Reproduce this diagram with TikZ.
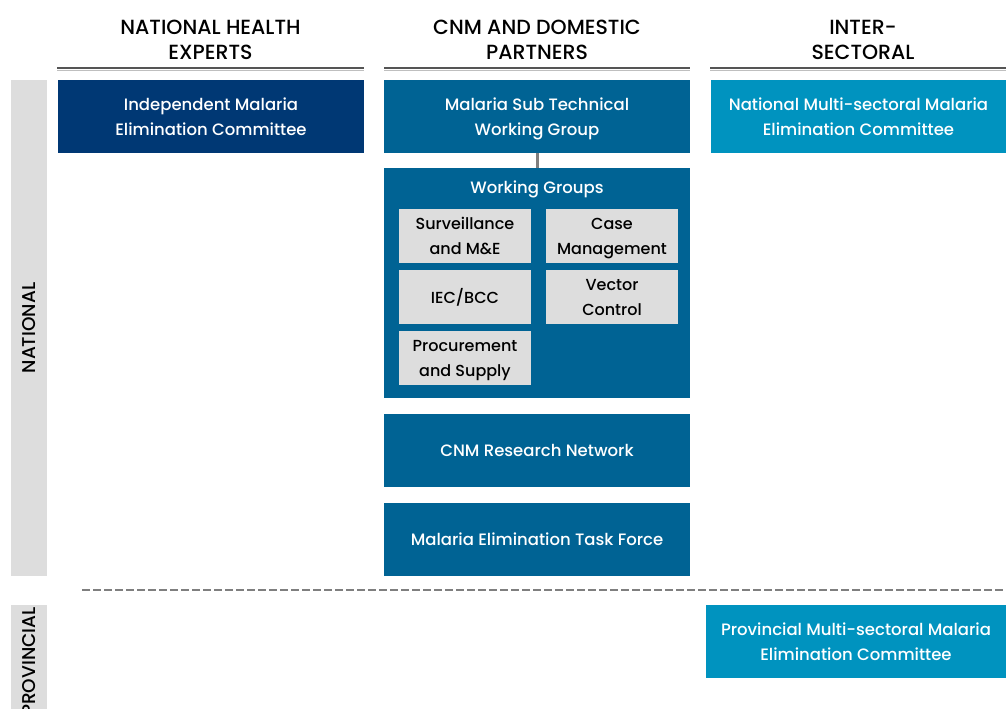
\documentclass[tikz,border=0pt]{standalone}
\usepackage{fontspec}
\setmainfont{Poppins}[UprightFont={* Medium}, BoldFont={* SemiBold}]
\definecolor{navy}{HTML}{003874}
\definecolor{midblue}{HTML}{006394}
\definecolor{lightblue}{HTML}{0093BF}
\definecolor{lgray}{HTML}{DDDDDD}
\definecolor{cgray}{HTML}{7F7F7F}
\definecolor{rulegray}{HTML}{555555}
\newcommand{\lnstrut}{\rule[-6.5pt]{0pt}{25pt}}
\begin{document}
\begin{tikzpicture}[x=1pt,y=-1pt,
  box/.style={rectangle, inner sep=0pt, minimum height=73pt, align=center, text=white,
    font=\fontsize{16.5}{25}\selectfont},
  subbox/.style={rectangle, fill=lgray, inner sep=0pt, minimum width=132pt, minimum height=54pt,
    align=center, text=black, font=\fontsize{16}{25}\selectfont},
  header/.style={align=center, inner sep=0pt, font=\fontsize{20.5}{25}\selectfont},
  bar/.style={rectangle, fill=lgray, inner sep=0pt, minimum width=36pt},
  sidelabel/.style={rotate=90, inner sep=0pt, font=\fontsize{18.5}{20}\selectfont},
  hrule/.style={rulegray, line width=2pt}]
\useasboundingbox (0,0) rectangle (1006,709);
\clip (0,0) rectangle (1006,709);
% headers
\node[header] (h1) at (210.5,40) {NATIONAL HEALTH\\EXPERTS};
\node[header] (h2) at (537,40) {CNM AND DOMESTIC\\PARTNERS};
\node[header] (h3) at (863,40) {INTER-\\SECTORAL};
\draw[hrule] (57,68.5) -- (364,68.5);
\draw[hrule] (384,68.5) -- (690,68.5);
\draw[hrule] (710,68.5) -- (1006,68.5);
\draw[black!25, line width=1pt] (57,70.5) -- (364,70.5);
\draw[black!25, line width=1pt] (384,70.5) -- (690,70.5);
\draw[black!25, line width=1pt] (710,70.5) -- (1006,70.5);
% side bars
\node[bar, minimum height=496pt] (natbar) at (29,328) {};
\node[sidelabel] (natlbl) at (29,328) {NATIONAL};
\node[bar, minimum height=160pt, anchor=north] (provbar) at (29,605) {};
\node[sidelabel, anchor=east] (provlbl) at (29,607) {PROVINCIAL};
% top boxes
\node[box, fill=navy, minimum width=306pt] (ime) at (211,116.5) {Independent Malaria\lnstrut\\Elimination Committee\lnstrut};
\node[box, fill=midblue, minimum width=306pt] (mstwg) at (537,116.5) {Malaria Sub Technical\lnstrut\\Working Group\lnstrut};
\node[box, fill=lightblue, minimum width=295pt] (nmmec) at (858.5,116.5) {National Multi-sectoral Malaria\lnstrut\\Elimination Committee\lnstrut};
% working groups
\node[rectangle, fill=midblue, inner sep=0pt, minimum width=306pt, minimum height=230pt] (wg) at (537,283) {};
\node[text=white, inner sep=0pt, anchor=base, font=\fontsize{16.5}{20}\selectfont] (wgt) at (537,193) {Working Groups};
\node[subbox] (s1) at (465,236) {Surveillance\lnstrut\\and M\&E\lnstrut};
\node[subbox] (s2) at (612,236) {Case\lnstrut\\Management\lnstrut};
\node[subbox] (s3) at (465,297) {IEC/BCC};
\node[subbox] (s4) at (612,297) {Vector\lnstrut\\Control\lnstrut};
\node[subbox] (s5) at (465,358) {Procurement\lnstrut\\and Supply\lnstrut};
\draw[cgray, line width=3pt] (mstwg.south) -- (wg.north);
% lower boxes
\node[box, fill=midblue, minimum width=306pt] (crn) at (537,450.5) {CNM Research Network};
\node[box, fill=midblue, minimum width=306pt] (metf) at (537,539.5) {Malaria Elimination Task Force};
% dashed separator
\coordinate (dl) at (82,590);
\coordinate (dr) at (1006,590);
\draw[cgray, line width=2pt, dash pattern=on 8pt off 3pt] (dl) -- (dr);
% provincial box
\node[box, fill=lightblue, minimum width=300pt] (pmmec) at (856,641.5) {Provincial Multi-sectoral Malaria\lnstrut\\Elimination Committee\lnstrut};
\end{tikzpicture}
\end{document}
